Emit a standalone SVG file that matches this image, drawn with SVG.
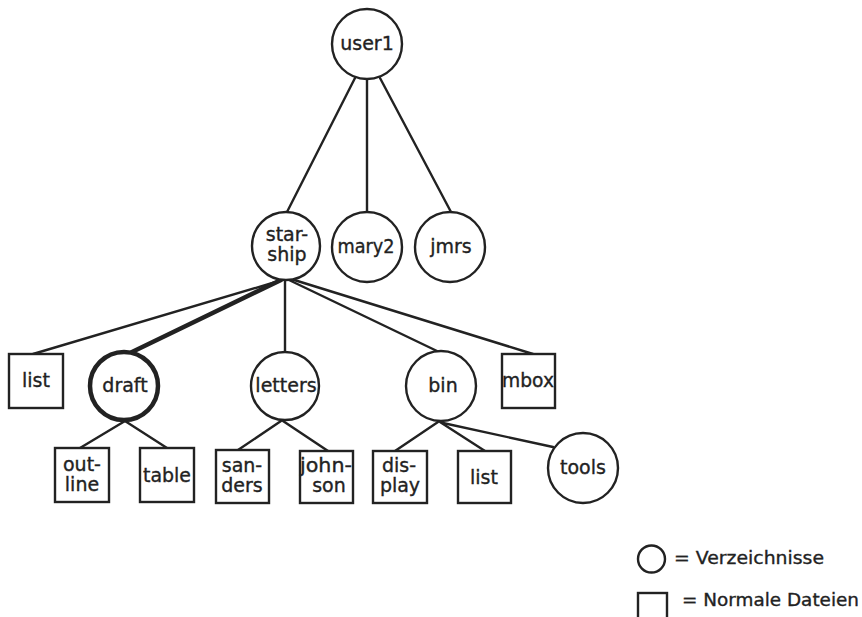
<svg xmlns="http://www.w3.org/2000/svg" width="862" height="617" viewBox="0 0 862 617">
  <style>
    .dir { fill: #fff; stroke: #222; stroke-width: 2.4; }
    .file { fill: #fff; stroke: #222; stroke-width: 2.4; }
    .thick { stroke-width: 4.5; }
    .edge { stroke: #222; stroke-width: 2.4; fill: none; stroke-linecap: round; }
    .edge.thick { stroke-width: 4.5; }
    text { font-family: "DejaVu Sans", "Liberation Sans", sans-serif; font-size: 19px; fill: #222; stroke: #222; stroke-width: 0.35; text-anchor: middle; }
    .legend { text-anchor: start; font-size: 18px; }
  </style>
  <rect width="862" height="617" fill="#fff"/>

  <!-- connectors -->
  <g id="connectors">
    <line class="edge" x1="355" y1="78" x2="287" y2="212"/>
    <line class="edge" x1="367" y1="79" x2="367" y2="212"/>
    <line class="edge" x1="380" y1="78" x2="451" y2="212"/>

    <line class="edge" x1="279" y1="281" x2="33" y2="354"/>
    <line class="edge thick" x1="281" y1="280" x2="132" y2="352"/>
    <line class="edge" x1="285" y1="280" x2="285" y2="352"/>
    <line class="edge" x1="289" y1="280" x2="437" y2="351"/>
    <line class="edge" x1="291" y1="279" x2="533" y2="354"/>

    <line class="edge" x1="125" y1="421" x2="80" y2="448"/>
    <line class="edge" x1="125" y1="421" x2="167" y2="448"/>
    <line class="edge" x1="281" y1="421" x2="238" y2="450"/>
    <line class="edge" x1="283" y1="421" x2="328" y2="451"/>
    <line class="edge" x1="438" y1="422" x2="395" y2="451"/>
    <line class="edge" x1="440" y1="422" x2="485" y2="451"/>
    <line class="edge" x1="443" y1="423" x2="553" y2="447"/>
  </g>

  <!-- level 0 -->
  <g id="user1">
    <circle class="dir" cx="367" cy="44" r="35"/>
    <text x="367" y="50">user1</text>
  </g>

  <!-- level 1 -->
  <g id="starship">
    <circle class="dir" cx="286" cy="246" r="34"/>
    <text x="287" y="241">star-</text>
    <text x="287" y="261">ship</text>
  </g>
  <g id="mary2">
    <circle class="dir" cx="367" cy="247" r="35"/>
    <text x="366" y="253" textLength="57" lengthAdjust="spacingAndGlyphs">mary2</text>
  </g>
  <g id="jmrs">
    <circle class="dir" cx="450" cy="247" r="35"/>
    <text x="451" y="253">jmrs</text>
  </g>

  <!-- level 2 -->
  <g id="list">
    <rect class="file" x="9" y="354" width="54" height="54"/>
    <text x="36" y="387">list</text>
  </g>
  <g id="draft">
    <circle class="dir thick" cx="124" cy="386" r="34"/>
    <text x="125" y="392">draft</text>
  </g>
  <g id="letters">
    <circle class="dir" cx="285" cy="386" r="34"/>
    <text x="286" y="392">letters</text>
  </g>
  <g id="bin">
    <circle class="dir" cx="441" cy="386" r="35"/>
    <text x="443" y="392">bin</text>
  </g>
  <g id="mbox">
    <rect class="file" x="502" y="354" width="53" height="54"/>
    <text x="528" y="387" textLength="52" lengthAdjust="spacingAndGlyphs">mbox</text>
  </g>

  <!-- level 3 -->
  <g id="outline">
    <rect class="file" x="55" y="448" width="54" height="54"/>
    <text x="82" y="471">out-</text>
    <text x="82" y="491">line</text>
  </g>
  <g id="table">
    <rect class="file" x="140" y="448" width="54" height="54"/>
    <text x="167" y="482" textLength="48" lengthAdjust="spacingAndGlyphs">table</text>
  </g>
  <g id="sanders">
    <rect class="file" x="216" y="450" width="53" height="53"/>
    <text x="242" y="472">san-</text>
    <text x="242" y="492">ders</text>
  </g>
  <g id="johnson">
    <rect class="file" x="300" y="451" width="53" height="52"/>
    <text x="326" y="472" textLength="52" lengthAdjust="spacingAndGlyphs">john-</text>
    <text x="329" y="492">son</text>
  </g>
  <g id="display">
    <rect class="file" x="373" y="451" width="54" height="52"/>
    <text x="399" y="472">dis-</text>
    <text x="400" y="492">play</text>
  </g>
  <g id="list2">
    <rect class="file" x="458" y="451" width="53" height="52"/>
    <text x="484" y="484">list</text>
  </g>
  <g id="tools">
    <circle class="dir" cx="583" cy="468" r="35"/>
    <text x="583" y="474">tools</text>
  </g>

  <!-- legend -->
  <g id="legend">
    <circle class="dir" cx="651.5" cy="559" r="13.5"/>
    <text class="legend" x="674" y="564" textLength="150" lengthAdjust="spacingAndGlyphs">= Verzeichnisse</text>
    <rect class="file" x="638" y="593" width="29" height="30"/>
    <text class="legend" x="682" y="606" textLength="177" lengthAdjust="spacingAndGlyphs">= Normale Dateien</text>
  </g>
</svg>
